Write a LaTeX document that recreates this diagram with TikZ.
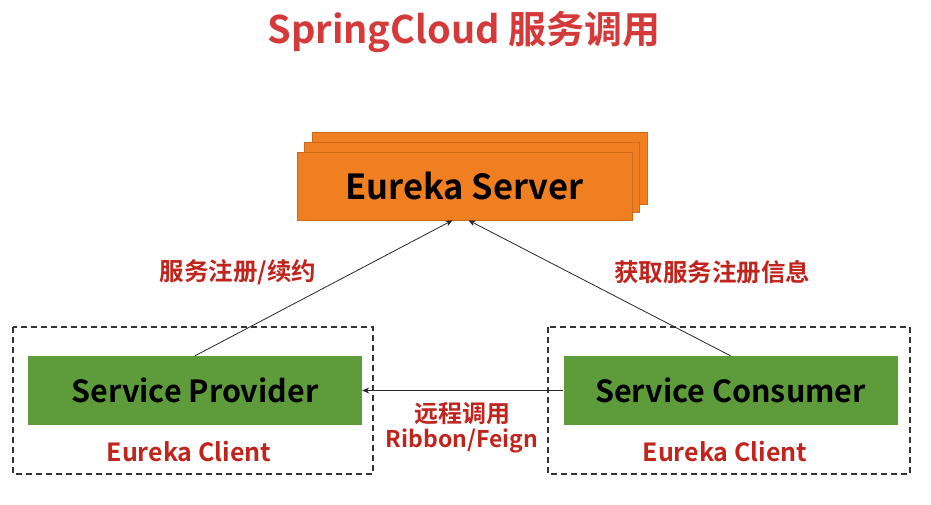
\documentclass[tikz,border=0pt]{standalone}
\usepackage{fontspec}
\setmainfont{Noto Sans CJK SC}[BoldFont={Noto Sans CJK SC Bold}]
\usetikzlibrary{arrows.meta,calc}
\definecolor{orangebox}{HTML}{F07F22}
\definecolor{orangeline}{HTML}{D0691A}
\definecolor{greenbox}{HTML}{5E9C3B}
\definecolor{redtxt}{HTML}{C0241C}
\definecolor{titlered}{HTML}{D43A3A}
\tikzset{
  x=1pt, y=-1pt,
  serverbox/.style={draw=orangeline, line width=0.6pt, fill=orangebox},
  svcbox/.style={draw=none, fill=greenbox, minimum width=334pt, minimum height=69pt, font=\fontsize{30.5}{34}\selectfont\bfseries, text=black, inner sep=0pt},
  clientbox/.style={draw=black!80, line width=1.3pt, dash pattern=on 6pt off 4pt},
  redlbl/.style={text=redtxt, font=\fontsize{24.5}{28}\selectfont\bfseries, inner sep=0pt},
  clientlbl/.style={text=redtxt, font=\fontsize{25}{28}\selectfont\bfseries, inner sep=0pt},
  conn/.style={draw=black!85, line width=0.8pt, -{Stealth[length=7pt,width=6pt]}},
}
\begin{document}
\begin{tikzpicture}
\useasboundingbox (0,0) rectangle (931,504);
% title
\node[text=titlered, font=\fontsize{38}{42}\selectfont\bfseries, inner sep=0pt] (title) at (464,32) {SpringCloud 服务调用};
% server stack
\draw[serverbox] (312,132) rectangle (647,204);
\draw[serverbox] (304,142) rectangle (639,212);
\node[serverbox, minimum width=335pt, minimum height=68pt, inner sep=0pt, font=\fontsize{34.5}{38}\selectfont\bfseries, text=black] (server) at (464.5,186) {Eureka Server};
% client dashed boxes
\draw[clientbox] (13,327) rectangle (373,474);
\draw[clientbox] (548,327) rectangle (910,474);
% service boxes
\node[svcbox] (prov) at (195,390.5) {Service Provider};
\node[svcbox] (cons) at (730.5,390.5) {Service Consumer};
\node[clientlbl] (pc) at (189,452) {Eureka Client};
\node[clientlbl] (cc) at (725,452) {Eureka Client};
% connectors
\coordinate (s1) at ($(server.south)+(-12,0)$);
\coordinate (s2) at ($(server.south)+(4,0)$);
\draw[conn] (prov.north) -- (s1);
\draw[conn] (cons.north) -- (s2);
\draw[conn] (cons.west) -- (prov.east);
% labels
\node[redlbl] (l1) at (238,272) {服务注册/续约};
\node[redlbl] (l2) at (712,272) {获取服务注册信息};
\node[redlbl, font=\fontsize{24}{28}\selectfont\bfseries] (l3) at (462,414) {远程调用};
\node[redlbl, font=\fontsize{23}{28}\selectfont\bfseries] (l4) at (462,441) {Ribbon/Feign};
\end{tikzpicture}
\end{document}
